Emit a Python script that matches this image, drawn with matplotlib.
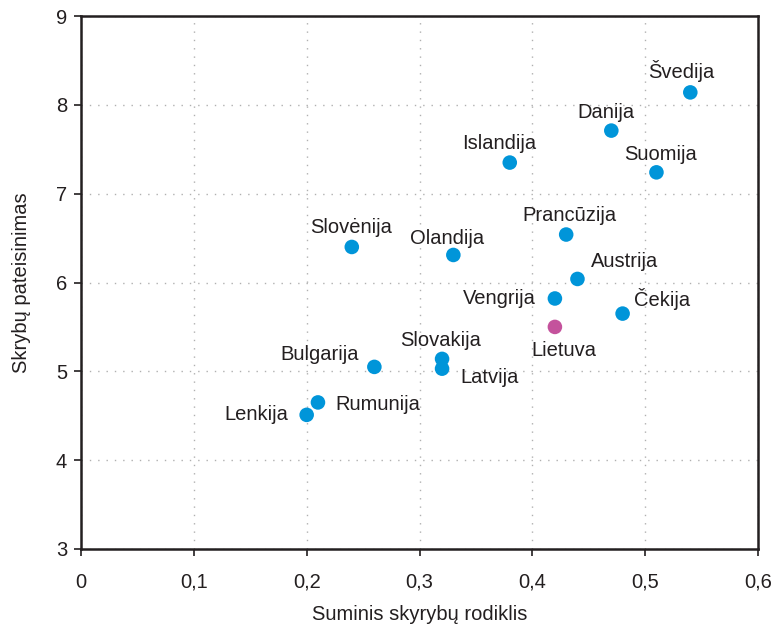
import matplotlib
matplotlib.use("Agg")
import matplotlib.pyplot as plt
from matplotlib.ticker import FuncFormatter

plt.rcParams["font.family"] = ["Liberation Sans", "DejaVu Sans"]

countries = ["Švedija", "Danija", "Suomija", "Islandija", "Prancūzija", "Slovėnija",
             "Olandija", "Austrija", "Vengrija", "Čekija", "Lietuva", "Slovakija",
             "Latvija", "Bulgarija", "Rumunija", "Lenkija"]
divorce_rate = [0.54, 0.47, 0.51, 0.38, 0.43, 0.24, 0.33, 0.44, 0.42, 0.48, 0.42,
                0.32, 0.32, 0.26, 0.21, 0.20]
justification = [8.14, 7.71, 7.24, 7.35, 6.54, 6.40, 6.31, 6.04, 5.82, 5.65, 5.50,
                 5.14, 5.03, 5.05, 4.65, 4.51]

BLUE = "#0095d9"
PINK = "#c4529c"
INK = "#231f20"
FS = 14.5

# label offsets in pixels (dx, dy, ha)
label_pos = {
    "Švedija": (-9, 21, "center"),
    "Danija": (-5, 18, "center"),
    "Suomija": (4, 18, "center"),
    "Islandija": (-11, 19, "center"),
    "Prancūzija": (3, 19, "center"),
    "Slovėnija": (-1, 19, "center"),
    "Olandija": (-6, 16, "center"),
    "Austrija": (13, 17, "left"),
    "Vengrija": (-19, 0, "right"),
    "Čekija": (11, 15, "left"),
    "Lietuva": (9, -24, "center"),
    "Slovakija": (-1, 18, "center"),
    "Latvija": (18, -9, "left"),
    "Bulgarija": (-15, 12, "right"),
    "Rumunija": (17, -2, "left"),
    "Lenkija": (-18, 0, "right"),
}

fig = plt.figure(figsize=(7.73, 6.32), dpi=100)
ax = fig.add_axes([81 / 773, (632 - 549) / 632, (758 - 81) / 773, (549 - 16) / 632])

colors = [PINK if c == "Lietuva" else BLUE for c in countries]
ax.scatter(divorce_rate, justification, s=110, c=colors, zorder=3, linewidths=0)

for name, x, y in zip(countries, divorce_rate, justification):
    dx, dy, ha = label_pos[name]
    ax.annotate(name, (x, y), xytext=(dx, dy), textcoords="offset pixels",
                ha=ha, va="center", fontsize=FS, color=INK)

ax.set_xlim(0, 0.6)
ax.set_ylim(3, 9)
ax.set_xticks([0, 0.1, 0.2, 0.3, 0.4, 0.5, 0.6])
ax.set_yticks([3, 4, 5, 6, 7, 8, 9])
ax.xaxis.set_major_formatter(FuncFormatter(lambda v, p: ("%g" % round(v, 1)).replace(".", ",")))
ax.grid(True, linestyle=(0, (1, 5)), color="#b0b0b0", linewidth=1.0)
ax.set_axisbelow(True)

for sp in ax.spines.values():
    sp.set_linewidth(1.8)
    sp.set_color(INK)
ax.tick_params(axis="both", direction="out", length=5, width=1.2, labelsize=FS,
               colors=INK, pad=5)
ax.tick_params(axis="x", pad=12)

ax.set_xlabel("Suminis skyrybų rodiklis", fontsize=FS, color=INK, labelpad=10)
ax.set_ylabel("Skrybų pateisinimas", fontsize=FS, color=INK, labelpad=18)

fig.savefig("out.png", dpi=100)
